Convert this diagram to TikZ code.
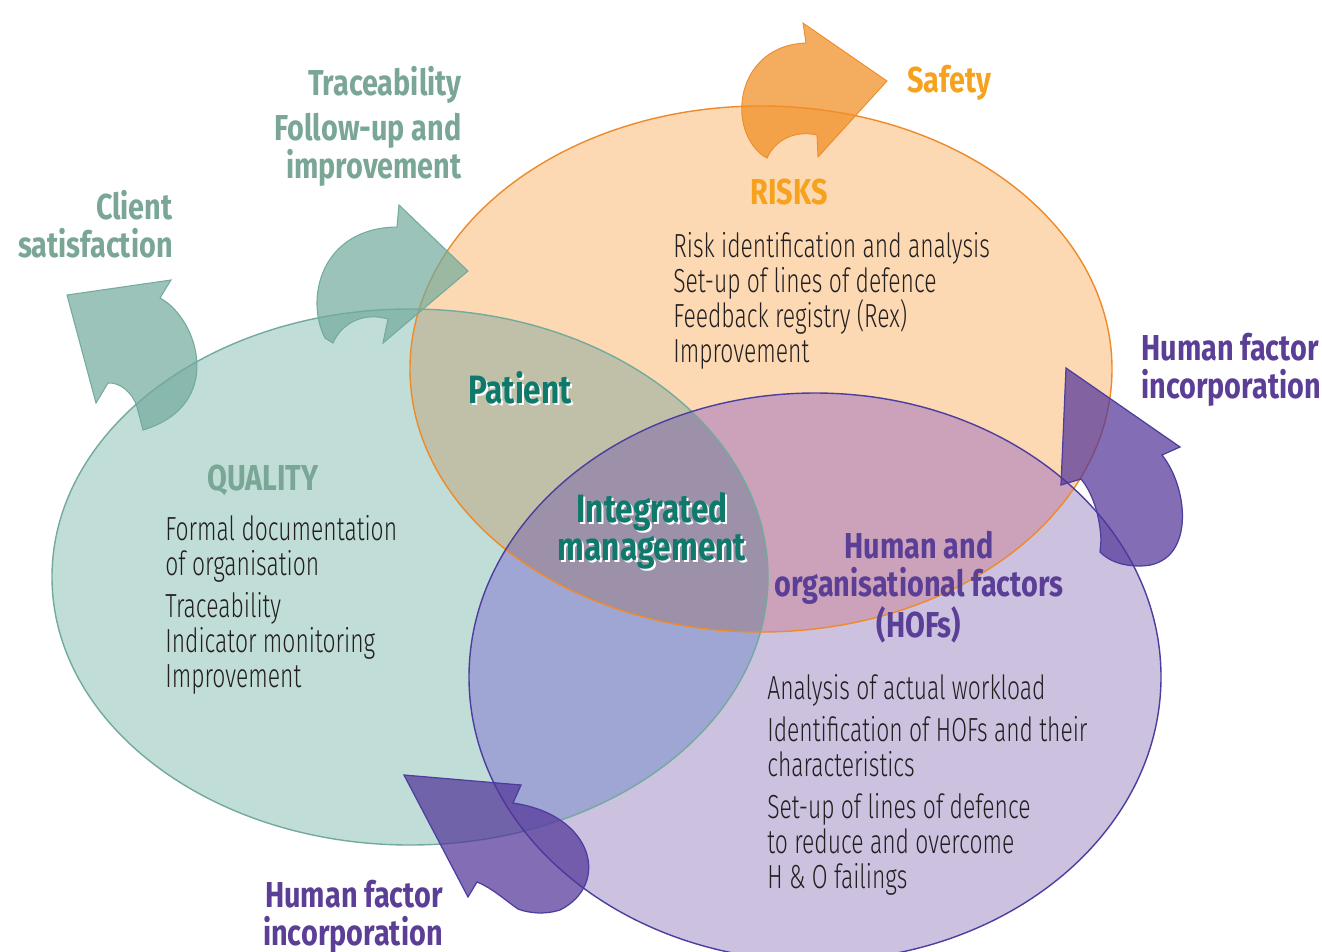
\documentclass[tikz,border=0pt]{standalone}
\usepackage{fontspec}
\usepackage{tikz}
\newfontfamily\headfont{Fira Sans}[FakeStretch=0.8]
\newfontfamily\bodyfont{Fira Sans Light}[FakeStretch=0.685]

\definecolor{ink}{HTML}{231F20}
\definecolor{qualfill}{HTML}{C1DDD7}
\definecolor{riskfill}{HTML}{FCD9B3}
\definecolor{hoffill}{HTML}{CCC2E0}
\definecolor{qualrisk}{HTML}{C0C0A8}
\definecolor{riskhof}{HTML}{CCA2BA}
\definecolor{qualhof}{HTML}{A0A6D3}
\definecolor{allthree}{HTML}{9D91A9}
\definecolor{qualline}{HTML}{72AA9D}
\definecolor{riskline}{HTML}{EF8A2A}
\definecolor{hofline}{HTML}{4B3E9E}
\definecolor{qualtext}{HTML}{7AA696}
\definecolor{risktext}{HTML}{F7A21E}
\definecolor{hoftext}{HTML}{5B3E96}
\definecolor{coretext}{HTML}{0F7A6C}

\newcommand{\qualarea}{(410,577) ellipse [x radius=358, y radius=268]}
\newcommand{\riskarea}{(761,369) ellipse [x radius=351, y radius=263]}
\newcommand{\hofarea}{(815,677) ellipse [x radius=346, y radius=284]}

\begin{document}
\begin{tikzpicture}[x=0.02cm, y=-0.02cm,
    head/.style={font=\headfont\bfseries\fontsize{20.5}{21.6}\selectfont, inner sep=0pt},
    item/.style={font=\bodyfont\fontsize{19}{19.9}\selectfont, text=ink, align=left, anchor=base west, inner sep=0pt},
    core/.style={font=\headfont\bfseries\fontsize{22.5}{21.6}\selectfont, inner sep=0pt, align=center, anchor=base},
    tealarrow/.style={fill=qualline, fill opacity=0.7, draw=qualline, line width=0.6pt},
    orangearrow/.style={fill=riskline!95!yellow, fill opacity=0.75, draw=riskline, line width=0.5pt},
    purplearrow/.style={fill=hofline!85!violet, fill opacity=0.72, draw=hofline, line width=0.7pt}]
    \useasboundingbox (0,0) rectangle (1322,951);

    % the three areas and their overlaps
    \fill[qualfill] \qualarea;
    \fill[riskfill] \riskarea;
    \fill[hoffill] \hofarea;
    \begin{scope}
        \clip \qualarea;
        \fill[qualrisk] \riskarea;
    \end{scope}
    \begin{scope}
        \clip \riskarea;
        \fill[riskhof] \hofarea;
    \end{scope}
    \begin{scope}
        \clip \qualarea;
        \fill[qualhof] \hofarea;
    \end{scope}
    \begin{scope}
        \clip \qualarea;
        \clip \riskarea;
        \fill[allthree] \hofarea;
    \end{scope}
    \draw[qualline, line width=0.8pt] \qualarea;
    \draw[riskline, line width=0.8pt] \riskarea;
    \draw[hofline, line width=0.8pt] \hofarea;

    % curved arrows
    \draw[tealarrow] (67,295) -- (171,280) -- (160,298)
        .. controls (198,318) and (226,405) .. (143,430) -- (137,407)
        .. controls (133,393) and (120,382) .. (108,383) -- (96,403) -- cycle;
    \draw[tealarrow] (397,227) -- (399,205) -- (468,271) -- (383,343) -- (388,319)
        .. controls (365,312) and (342,322) .. (333,343) -- (325,338)
        .. controls (305,300) and (320,228) .. (397,227) -- cycle;
    \draw[orangearrow] (806,43) -- (803,23) -- (887,81) -- (818,157) -- (817,135)
        .. controls (795,130) and (775,140) .. (767,158) -- (762,155)
        .. controls (725,125) and (738,45) .. (806,43) -- cycle;
    \draw[purplearrow] (1081,479) -- (1061,485) -- (1066,368) -- (1180,447) -- (1162,455)
        .. controls (1190,490) and (1195,566) .. (1140,566)
        .. controls (1120,566) and (1108,560) .. (1100,552) -- (1101,540)
        .. controls (1100,515) and (1092,492) .. (1081,479) -- cycle;
    \draw[purplearrow] (404,775) -- (521,785) -- (513,803)
        .. controls (595,815) and (610,885) .. (560,910)
        .. controls (545,915) and (528,913) .. (518,909)
        .. controls (505,900) and (492,888) .. (477,882) -- (468,897) -- cycle;

    % outer labels (multi-line nodes sit on their last baseline)
    \node (traceability) [head, text=qualtext, anchor=base east] at (462,95) {Traceability};
    \node (followup) [head, text=qualtext, anchor=base east, align=right] at (462,178) {Follow-up and\\improvement};
    \node (client) [head, text=qualtext, anchor=base east, align=right] at (173,257) {Client\\satisfaction};
    \node (safety) [head, text=risktext, anchor=base west] at (907,92) {Safety};
    \node (hfright) [head, text=hoftext, anchor=base west, align=left] at (1141,398) {Human factor\\incorporation};
    \node (hfbottom) [head, text=hoftext, anchor=base east, align=right] at (443,945) {Human factor\\incorporation};

    % titles of the areas
    \node (quality) [head, text=qualtext, anchor=base] at (263,490) {QUALITY};
    \node (risks) [head, text=risktext, anchor=base] at (789,204) {RISKS};
    \node (hofs) [head, text=hoftext, align=center, anchor=base] at (919,637) {Human and\\organisational factors\\(HOFs)};

    % shared centre
    \node (patientshadow) [core, text=white] at (522,405) {Patient};
    \node (patient) [core, text=coretext] at (520,403) {Patient};
    \node (integratedshadow) [core, text=white] at (654,562) {Integrated\\management};
    \node (integrated) [core, text=coretext] at (652,560) {Integrated\\management};

    % contents
    \node (qualitems) [item] at (165,687) {Formal documentation\\of organisation\\[0.14cm]
        Traceability\\Indicator monitoring\\Improvement};
    \node (riskitems) [item] at (673,362) {Risk identification and analysis\\Set-up of lines of defence\\
        Feedback registry (Rex)\\Improvement};
    \node (hofitems) [item] at (767,888) {Analysis of actual workload\\[0.14cm]
        Identification of HOFs and their\\characteristics\\[0.14cm]
        Set-up of lines of defence\\to reduce and overcome\\H \& O failings};
\end{tikzpicture}
\end{document}
